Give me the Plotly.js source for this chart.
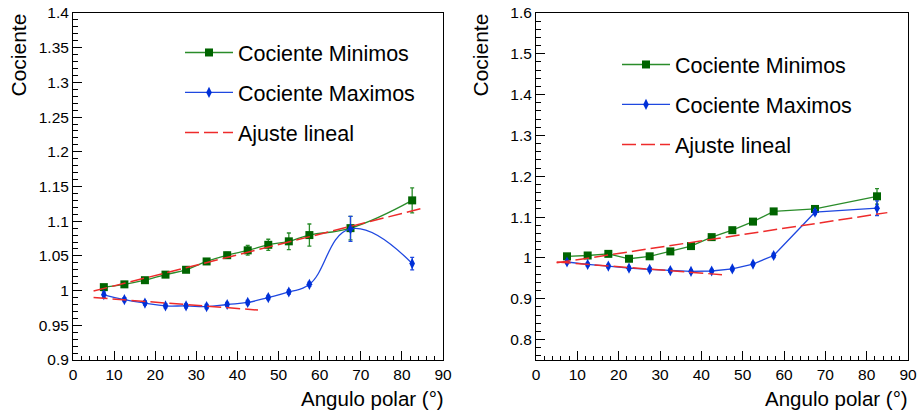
<!DOCTYPE html>
<html>
<head>
<meta charset="utf-8">
<script src="https://cdn.plot.ly/plotly-3.0.1.min.js"></script>
<style>html,body{margin:0;padding:0;background:#fff;}#chart{width:919px;height:410px;}</style>
</head>
<body>
<div id="chart"></div>
<script>
// ---- data ----
const angles = [7.5, 12.5, 17.5, 22.5, 27.5, 32.5, 37.5, 42.5, 47.5, 52.5, 57.5, 67.5, 82.5];

// left panel
const minLeft    = [1.005, 1.009, 1.015, 1.023, 1.030, 1.042, 1.051, 1.058, 1.066, 1.071, 1.080, 1.090, 1.130];
const minLeftErr = [0.003, 0.002, 0.002, 0.002, 0.002, 0.003, 0.004, 0.007, 0.008, 0.012, 0.016, 0.017, 0.018];
const maxLeft    = [0.994, 0.987, 0.982, 0.978, 0.978, 0.977, 0.980, 0.983, 0.990, 0.998, 1.009, 1.089, 1.039];
const maxLeftErr = [0.004, 0.003, 0.003, 0.003, 0.003, 0.003, 0.003, 0.003, 0.003, 0.003, 0.003, 0.018, 0.009];
const fitMinLeftX = [5, 85];
const fitMinLeftY = [0.9994, 1.1186];
const fitMaxLeftX = [5, 45];
const fitMaxLeftY = [0.990, 0.972];

// right panel
const minRight    = [1.004, 1.006, 1.010, 0.998, 1.004, 1.016, 1.029, 1.051, 1.068, 1.089, 1.114, 1.120, 1.151];
const minRightErr = [0.003, 0.003, 0.003, 0.003, 0.003, 0.003, 0.003, 0.003, 0.003, 0.003, 0.005, 0.006, 0.019];
const maxRight    = [0.990, 0.984, 0.980, 0.975, 0.972, 0.969, 0.967, 0.968, 0.973, 0.985, 1.006, 1.112, 1.122];
const maxRightErr = [0.004, 0.004, 0.004, 0.004, 0.004, 0.004, 0.004, 0.004, 0.004, 0.004, 0.005, 0.006, 0.018];
const fitMinRightX = [5, 85];
const fitMinRightY = [0.988, 1.111];
const fitMaxRightX = [5, 45];
const fitMaxRightY = [0.990, 0.959];

// tick labels
const xTickVals = [0, 10, 20, 30, 40, 50, 60, 70, 80, 90];
const xTickText = ['0', '10', '20', '30', '40', '50', '60', '70', '80', '90'];
const yLeftTickVals = [0.9, 0.95, 1.0, 1.05, 1.1, 1.15, 1.2, 1.25, 1.3, 1.35, 1.4];
const yLeftTickText = ['0.9', '0.95', '1', '1.05', '1.1', '1.15', '1.2', '1.25', '1.3', '1.35', '1.4'];
const yRightTickVals = [0.8, 0.9, 1.0, 1.1, 1.2, 1.3, 1.4, 1.5, 1.6];
const yRightTickText = ['0.8', '0.9', '1', '1.1', '1.2', '1.3', '1.4', '1.5', '1.6'];

const seriesNames = ['Cociente Minimos', 'Cociente Maximos', 'Ajuste lineal'];

// ---- styling ----
const W = 919, H = 410;
const px = v => v / W;
const py = v => (H - v) / H;
const FONT = 'Liberation Sans, Arial, sans-serif';
const GREEN_M = '#006400', GREEN_L = '#2a8c2a';
const BLUE_M = '#0030d8', BLUE_L = '#1f48e0';
const RED = '#ee2b2b';

function minTrace(y, err, xa, ya, shape, leg) {
  return {x: angles, y: y, xaxis: xa, yaxis: ya, type: 'scatter', mode: 'lines+markers',
    name: seriesNames[0], legend: leg, legendgroup: leg + 'a',
    line: {color: GREEN_L, width: 1.3, shape: shape, smoothing: 1.3},
    marker: {symbol: 'square', size: 8, color: GREEN_M},
    error_y: {type: 'data', array: err, visible: true, color: GREEN_L, thickness: 1.3, width: 2}};
}
function maxTrace(y, err, xa, ya, shape, leg) {
  return {x: angles, y: y, xaxis: xa, yaxis: ya, type: 'scatter', mode: 'lines+markers',
    name: seriesNames[1], legend: leg, legendgroup: leg + 'b',
    line: {color: BLUE_L, width: 1.3, shape: shape, smoothing: 1.3},
    marker: {symbol: 'diamond-tall', size: 8, color: BLUE_M},
    error_y: {type: 'data', array: err, visible: true, color: BLUE_L, thickness: 1.3, width: 2}};
}
function fitTrace(x, y, xa, ya, leg, show) {
  return {x: x, y: y, xaxis: xa, yaxis: ya, type: 'scatter', mode: 'lines',
    name: seriesNames[2], legend: leg, legendgroup: leg + 'c', showlegend: show,
    line: {color: RED, width: 1.5, dash: '14px,5px'}};
}

const traces = [
  minTrace(minLeft, minLeftErr, 'x', 'y', 'spline', 'legend'),
  maxTrace(maxLeft, maxLeftErr, 'x', 'y', 'spline', 'legend'),
  fitTrace(fitMinLeftX, fitMinLeftY, 'x', 'y', 'legend', true),
  fitTrace(fitMaxLeftX, fitMaxLeftY, 'x', 'y', 'legend', false),
  minTrace(minRight, minRightErr, 'x2', 'y2', 'linear', 'legend2'),
  maxTrace(maxRight, maxRightErr, 'x2', 'y2', 'linear', 'legend2'),
  fitTrace(fitMinRightX, fitMinRightY, 'x2', 'y2', 'legend2', true),
  fitTrace(fitMaxRightX, fitMaxRightY, 'x2', 'y2', 'legend2', false)
];

function xAxis(domain, anchor) {
  return {domain: domain, anchor: anchor, range: [0, 90], tickmode: 'array',
    tickvals: xTickVals, ticktext: xTickText, ticks: 'inside', ticklen: 9, tickcolor: '#000',
    showline: true, linecolor: '#000', linewidth: 1, mirror: true, showgrid: false, zeroline: false,
    tickfont: {family: FONT, size: 15.5, color: '#000'},
    minor: {ticks: 'inside', ticklen: 4.5, tick0: 0, dtick: 2, tickcolor: '#000', showgrid: false}};
}
function yAxis(domain, anchor, range, tv, tt, mdt) {
  return {domain: domain, anchor: anchor, range: range, tickmode: 'array',
    tickvals: tv, ticktext: tt, ticks: 'inside', ticklen: 9, tickcolor: '#000',
    showline: true, linecolor: '#000', linewidth: 1, mirror: true, showgrid: false, zeroline: false,
    tickfont: {family: FONT, size: 15.5, color: '#000'},
    minor: {ticks: 'inside', ticklen: 4.5, tick0: 0, dtick: mdt, tickcolor: '#000', showgrid: false}};
}

const yDom = [py(360), py(13)];
const legendCommon = {xanchor: 'left', yanchor: 'top', bgcolor: 'rgba(0,0,0,0)', borderwidth: 0,
  font: {family: FONT, size: 21.5, color: '#000'}, traceorder: 'grouped', tracegroupgap: 9, itemwidth: 48};

const layout = {
  width: W, height: H, margin: {l: 0, r: 0, t: 0, b: 0},
  paper_bgcolor: '#fff', plot_bgcolor: '#fff',
  font: {family: FONT, color: '#000'},
  xaxis: xAxis([px(73), px(443)], 'y'),
  yaxis: yAxis(yDom, 'x', [0.9, 1.4], yLeftTickVals, yLeftTickText, 0.01),
  xaxis2: xAxis([px(536), px(908)], 'y2'),
  yaxis2: yAxis(yDom, 'x2', [0.75, 1.6], yRightTickVals, yRightTickText, 0.02),
  legend: Object.assign({x: px(180), y: py(32)}, legendCommon),
  legend2: Object.assign({x: px(617), y: py(44)}, legendCommon),
  showlegend: true,
  annotations: [
    {xref: 'paper', yref: 'paper', x: px(18), y: py(12), xanchor: 'center', yanchor: 'top', textangle: -90,
     text: 'Cociente', showarrow: false, font: {family: FONT, size: 21, color: '#000'}},
    {xref: 'paper', yref: 'paper', x: px(480), y: py(12), xanchor: 'center', yanchor: 'top', textangle: -90,
     text: 'Cociente', showarrow: false, font: {family: FONT, size: 21, color: '#000'}},
    {xref: 'paper', yref: 'paper', x: px(446), y: py(398), xanchor: 'right', yanchor: 'middle',
     text: 'Angulo polar (°)', showarrow: false, font: {family: FONT, size: 20.5, color: '#000'}},
    {xref: 'paper', yref: 'paper', x: px(910), y: py(398), xanchor: 'right', yanchor: 'middle',
     text: 'Angulo polar (°)', showarrow: false, font: {family: FONT, size: 20.5, color: '#000'}}
  ]
};

Plotly.newPlot('chart', traces, layout, {displayModeBar: false, staticPlot: true});
</script>
</body>
</html>
